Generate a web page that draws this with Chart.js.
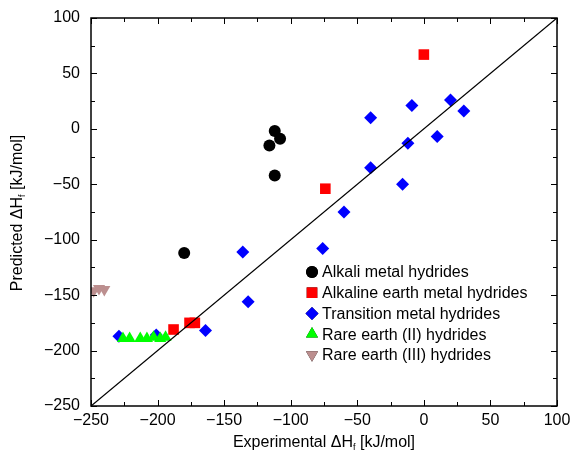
<!DOCTYPE html>
<html>
<head>
<meta charset="utf-8">
<script src="https://cdn.jsdelivr.net/npm/chart.js@4/dist/chart.umd.min.js"></script>
<style>
  body { margin: 0; background: #fff; }
  #wrap { width: 570px; height: 450px; }
</style>
</head>
<body>
<div id="wrap"><canvas id="hydrideChart" width="570" height="450"></canvas></div>
<script>
// formation enthalpies, experimental (x) vs predicted (y), kJ/mol
const alkaliExp = [-112, -108, -116, -112, -180];
const alkaliPred = [-2, -9, -15, -42, -112];
const alkEarthExp = [0, -74, -188, -176, -172];
const alkEarthPred = [67, -54, -181, -175, -175];
const transExp = [20, 30, -9, -40, 10, -12, -40, -16, -60, -76, -136, -132, -164, -229, -201];
const transPred = [26, 16, 21, 10, -7, -13, -35, -50, -75, -108, -111, -156, -182, -187, -186];
const rareEarth2Exp = [-226, -221, -213, -208, -203, -198, -194];
const rareEarth2Pred = [-189, -189, -189, -189, -188, -189, -188];
const rareEarth3Exp = [-248, -244, -240];
const rareEarth3Pred = [-146, -144, -145];
const parity = [-250, 100];

const seriesNames = ['Alkali metal hydrides', 'Alkaline earth metal hydrides', 'Transition metal hydrides',
  'Rare earth (II) hydrides', 'Rare earth (III) hydrides'];
const xTicks = [-250, -200, -150, -100, -50, 0, 50, 100];
const yTicks = [-250, -200, -150, -100, -50, 0, 50, 100];
const minorStep = 25;

const FONT = '"Liberation Sans", Arial, sans-serif';

function pts(xs, ys) {
    return xs.map((x, i) => ({ x: x, y: ys[i] }));
}

const markers = [
    { style: 'circle', color: '#000000', radius: 6, rotation: 0 },
    { style: 'rect', color: '#ff0000', radius: 7.5, rotation: 0 },
    { style: 'rectRot', color: '#0000ff', radius: 6.5, rotation: 0 },
    { style: 'triangle', color: '#00ff00', radius: 7, rotation: 0 },
    { style: 'triangle', color: '#bc8f8f', radius: 7, rotation: 180 }
];

function scatterSet(i, data, order) {
    const m = markers[i];
    return {
        label: seriesNames[i],
        data: data,
        showLine: false,
        pointStyle: m.style,
        pointRadius: m.radius,
        pointRotation: m.rotation,
        pointBackgroundColor: m.color,
        pointBorderWidth: 0,
        order: order
    };
}

function minus(v) {
    return String(v).replace('-', '\u2212');
}

// keep the plot box fixed: no extra room for overhanging end labels
function fixFit(s, size) {
    if (s.isHorizontal()) s.height = size; else s.width = size;
    s.paddingLeft = 0;
    s.paddingRight = 0;
    s.paddingTop = 0;
    s.paddingBottom = 0;
}

// frame + inward ticks on all four sides
const framePlugin = {
    id: 'frame',
    afterDatasetsDraw(chart) {
        const ctx = chart.ctx;
        const a = chart.chartArea;
        const xs = chart.scales.x, ys = chart.scales.y;
        ctx.save();
        ctx.strokeStyle = '#000';
        ctx.lineWidth = 1.5;
        ctx.strokeRect(a.left, a.top, a.right - a.left, a.bottom - a.top);
        ctx.lineWidth = 1;
        ctx.beginPath();
        for (let v = xs.min; v <= xs.max; v += minorStep) {
            const len = (v % 50 === 0) ? 6 : 4;
            const px = Math.round(xs.getPixelForValue(v)) + 0.5;
            ctx.moveTo(px, a.bottom); ctx.lineTo(px, a.bottom - len);
            ctx.moveTo(px, a.top); ctx.lineTo(px, a.top + len);
        }
        for (let v = ys.min; v <= ys.max; v += minorStep) {
            const len = (v % 50 === 0) ? 6 : 4;
            const py = Math.round(ys.getPixelForValue(v)) + 0.5;
            ctx.moveTo(a.left, py); ctx.lineTo(a.left + len, py);
            ctx.moveTo(a.right, py); ctx.lineTo(a.right - len, py);
        }
        ctx.stroke();
        ctx.restore();
    }
};

// axis titles with subscript f
function drawTitle(ctx, parts, cx, cy) {
    let w = 0;
    parts.forEach(p => {
        ctx.font = p.size + 'px ' + FONT;
        p.w = ctx.measureText(p.text).width;
        w += p.w;
    });
    let x = cx - w / 2;
    parts.forEach(p => {
        ctx.font = p.size + 'px ' + FONT;
        ctx.fillText(p.text, x, cy + (p.shift || 0));
        x += p.w;
    });
}

const titlePlugin = {
    id: 'titles',
    afterDraw(chart) {
        const ctx = chart.ctx;
        const a = chart.chartArea;
        ctx.save();
        ctx.fillStyle = '#000';
        ctx.textBaseline = 'alphabetic';
        ctx.textAlign = 'left';
        drawTitle(ctx, [
            { text: 'Experimental \u0394H', size: 16 },
            { text: 'f', size: 9, shift: 3 },
            { text: ' [kJ/mol]', size: 16 }
        ], (a.left + a.right) / 2, 447);
        ctx.translate(22, 213);
        ctx.rotate(-Math.PI / 2);
        drawTitle(ctx, [
            { text: 'Predicted \u0394H', size: 16 },
            { text: 'f', size: 9, shift: 3 },
            { text: ' [kJ/mol]', size: 16 }
        ], 0, 0);
        ctx.restore();
    }
};

// legend inside the plot, lower right
const legendPlugin = {
    id: 'boxLegend',
    afterDraw(chart) {
        const ctx = chart.ctx;
        ctx.save();
        ctx.font = '16px ' + FONT;
        ctx.textBaseline = 'middle';
        ctx.fillStyle = '#000';
        const x0 = 312, y0 = 272, row = 20.7;
        seriesNames.forEach((name, i) => {
            const m = markers[i];
            const y = y0 + i * row;
            Chart.helpers.drawPoint(ctx, {
                pointStyle: m.style, radius: m.radius, rotation: m.rotation, borderWidth: 0
            }, x0, y);
            ctx.fillStyle = m.color;
            ctx.fill();
            ctx.fillStyle = '#000';
            ctx.fillText(name, x0 + 10, y + 1);
        });
        ctx.restore();
    }
};

const ctx = document.getElementById('hydrideChart').getContext('2d');
window.myChart = new Chart(ctx, {
    type: 'scatter',
    data: {
        datasets: [
            {
                label: 'parity',
                data: pts(parity, parity),
                showLine: true,
                borderColor: '#000',
                borderWidth: 1.3,
                pointRadius: 0,
                order: 0
            },
            scatterSet(3, pts(rareEarth2Exp, rareEarth2Pred), 1),
            scatterSet(4, pts(rareEarth3Exp, rareEarth3Pred), 2),
            scatterSet(1, pts(alkEarthExp, alkEarthPred), 3),
            scatterSet(2, pts(transExp, transPred), 4),
            scatterSet(0, pts(alkaliExp, alkaliPred), 5)
        ]
    },
    options: {
        responsive: false,
        animation: false,
        devicePixelRatio: 1,
        layout: { padding: { left: 0, right: 13, top: 18, bottom: 0 } },
        plugins: { legend: { display: false }, tooltip: { enabled: false } },
        scales: {
            x: {
                type: 'linear',
                min: -250,
                max: 100,
                afterBuildTicks: s => { s.ticks = xTicks.map(v => ({ value: v })); },
                afterFit: s => fixFit(s, 44),
                grid: { display: false, drawTicks: false },
                border: { display: false },
                ticks: {
                    padding: 7,
                    color: '#000',
                    maxRotation: 0,
                    font: { family: FONT, size: 16, lineHeight: 1 },
                    callback: v => minus(v)
                }
            },
            y: {
                type: 'linear',
                min: -250,
                max: 100,
                afterBuildTicks: s => { s.ticks = yTicks.map(v => ({ value: v })); },
                afterFit: s => fixFit(s, 91),
                grid: { display: false, drawTicks: false },
                border: { display: false },
                ticks: {
                    padding: 11,
                    color: '#000',
                    font: { family: FONT, size: 16, lineHeight: 1 },
                    callback: v => minus(v)
                }
            }
        }
    },
    plugins: [framePlugin, titlePlugin, legendPlugin]
});
</script>
</body>
</html>
